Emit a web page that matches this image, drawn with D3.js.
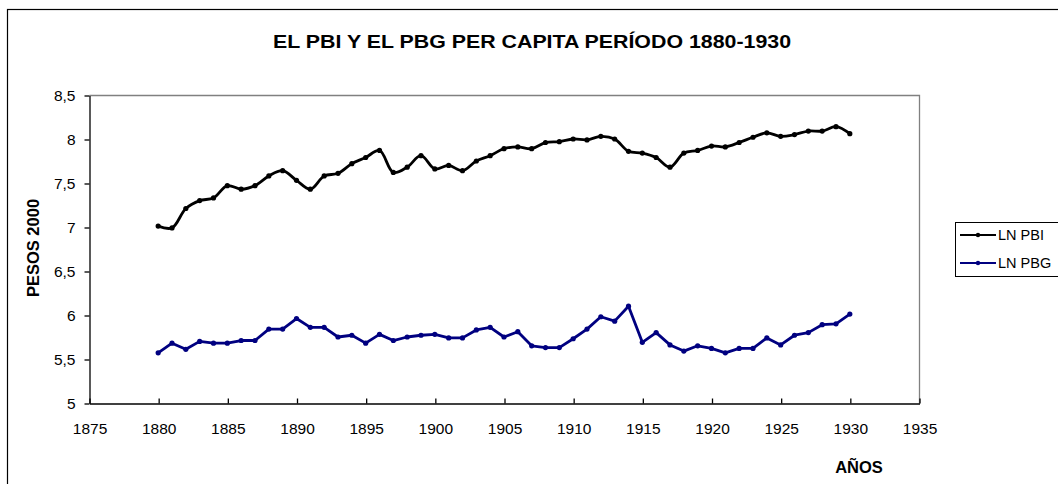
<!DOCTYPE html>
<html><head><meta charset="utf-8">
<script src="https://cdn.jsdelivr.net/npm/d3@7"></script>
<style>body{margin:0;background:#fff}svg{display:block;font-family:"Liberation Sans",Arial,sans-serif}</style>
</head><body>
<svg id="c" width="1058" height="484"></svg>
<script>
const years = [1880,1881,1882,1883,1884,1885,1886,1887,1888,1889,1890,1891,1892,1893,1894,1895,1896,1897,1898,1899,1900,1901,1902,1903,1904,1905,1906,1907,1908,1909,1910,1911,1912,1913,1914,1915,1916,1917,1918,1919,1920,1921,1922,1923,1924,1925,1926,1927,1928,1929,1930];
const lnPBI = [7.01,6.99,7.21,7.30,7.33,7.47,7.43,7.47,7.58,7.64,7.53,7.43,7.58,7.61,7.72,7.79,7.87,7.62,7.68,7.81,7.66,7.70,7.64,7.75,7.81,7.89,7.91,7.89,7.96,7.97,8.00,7.99,8.03,8.00,7.86,7.84,7.79,7.68,7.84,7.87,7.92,7.91,7.96,8.02,8.07,8.03,8.05,8.09,8.09,8.14,8.06];
const lnPBG = [5.57,5.68,5.61,5.70,5.68,5.68,5.71,5.71,5.84,5.84,5.96,5.86,5.86,5.75,5.77,5.68,5.78,5.71,5.75,5.77,5.78,5.74,5.74,5.83,5.86,5.75,5.81,5.65,5.63,5.63,5.73,5.84,5.98,5.93,6.10,5.69,5.80,5.66,5.59,5.65,5.62,5.57,5.62,5.62,5.74,5.66,5.77,5.80,5.89,5.90,6.01];
const seriesNames = ["LN PBI","LN PBG"];
const xTicks = [1875,1880,1885,1890,1895,1900,1905,1910,1915,1920,1925,1930,1935];
const yTicks = [5,5.5,6,6.5,7,7.5,8,8.5];
const titleText = "EL PBI Y EL PBG PER CAPITA PERÍODO 1880-1930";
const yTitle = "PESOS 2000";
const xTitle = "AÑOS";

const svg = d3.select("#c");
const L = 89, R = 919, T = 95, B = 403;
const x = d3.scaleLinear().domain([1875,1935]).range([L,R]);
const y = d3.scaleLinear().domain([5,8.5]).range([B,T]);
const loc = d3.formatLocale({decimal:",",thousands:".",grouping:[3],currency:["$",""]});
const fmt = loc.format(".1~f");
const FF = "Liberation Sans, Arial, sans-serif";

// outer chart border
svg.append("rect").attr("x",7.5).attr("y",9.5).attr("width",1200).attr("height",600)
  .attr("fill","none").attr("stroke","#000").attr("stroke-width",1.2);

// plot border (top/right gray)
svg.append("path").attr("d",`M${L+0.5},${T+0.5}H${R+0.5}V${B+0.5}`)
  .attr("fill","none").attr("stroke","#808080").attr("stroke-width",1.3);

// title
svg.append("text").attr("x",532).attr("y",48).attr("text-anchor","middle")
  .attr("font-weight","bold").attr("font-size",19).attr("textLength",518).attr("lengthAdjust","spacingAndGlyphs")
  .text(titleText);

// y axis
const gy = svg.append("g").attr("transform",`translate(${L+0.5},0.5)`)
  .call(d3.axisLeft(y).tickValues(yTicks).tickSize(5).tickSizeOuter(0).tickPadding(9).tickFormat(fmt));
gy.selectAll("text").attr("font-size",15.5).attr("font-family",FF).attr("fill","#000");
gy.selectAll("line,path").attr("stroke","#000").attr("stroke-width",1.3);

// x axis
const gx = svg.append("g").attr("transform",`translate(0.5,${B+0.5})`)
  .call(d3.axisBottom(x).tickValues(xTicks).tickSizeInner(-5).tickSizeOuter(0).tickPadding(19).tickFormat(d3.format("d")));
gx.selectAll("text").attr("font-size",15.5).attr("font-family",FF).attr("fill","#000");
gx.selectAll("line,path").attr("stroke","#000").attr("stroke-width",1.3);

// axis titles
svg.append("text").attr("transform","translate(39,248) rotate(-90)").attr("text-anchor","middle")
  .attr("font-weight","bold").attr("font-size",16.5).text(yTitle);
svg.append("text").attr("x",859).attr("y",473).attr("text-anchor","middle")
  .attr("font-weight","bold").attr("font-size",16.5).text(xTitle);

// series
const series = [
  {name:seriesNames[0], values:lnPBI, color:"#000000", curve:d3.curveCatmullRom.alpha(0.5)},
  {name:seriesNames[1], values:lnPBG, color:"#000080", curve:d3.curveLinear}
];
series.forEach(s=>{
  const pts = years.map((yr,i)=>[yr,s.values[i]]);
  svg.append("path").datum(pts)
    .attr("d",d3.line().x(d=>x(d[0])).y(d=>y(d[1])).curve(s.curve))
    .attr("fill","none").attr("stroke",s.color).attr("stroke-width",2.8).attr("stroke-linejoin","round");
  svg.append("g").selectAll("circle").data(pts).join("circle")
    .attr("cx",d=>x(d[0])).attr("cy",d=>y(d[1])).attr("r",2.6).attr("fill",s.color);
});

// legend
const lg = svg.append("g");
lg.append("rect").attr("x",955.5).attr("y",222.5).attr("width",200).attr("height",54)
  .attr("fill","#fff").attr("stroke","#000").attr("stroke-width",1);
series.forEach((s,i)=>{
  const ly = 235 + i*28;
  lg.append("line").attr("x1",960).attr("x2",996).attr("y1",ly).attr("y2",ly)
    .attr("stroke",s.color).attr("stroke-width",2);
  lg.append("circle").attr("cx",978).attr("cy",ly).attr("r",2.2).attr("fill",s.color);
  lg.append("text").attr("x",998).attr("y",ly+5).attr("font-size",14.5).attr("font-family",FF).text(s.name);
});
</script>
</body></html>
